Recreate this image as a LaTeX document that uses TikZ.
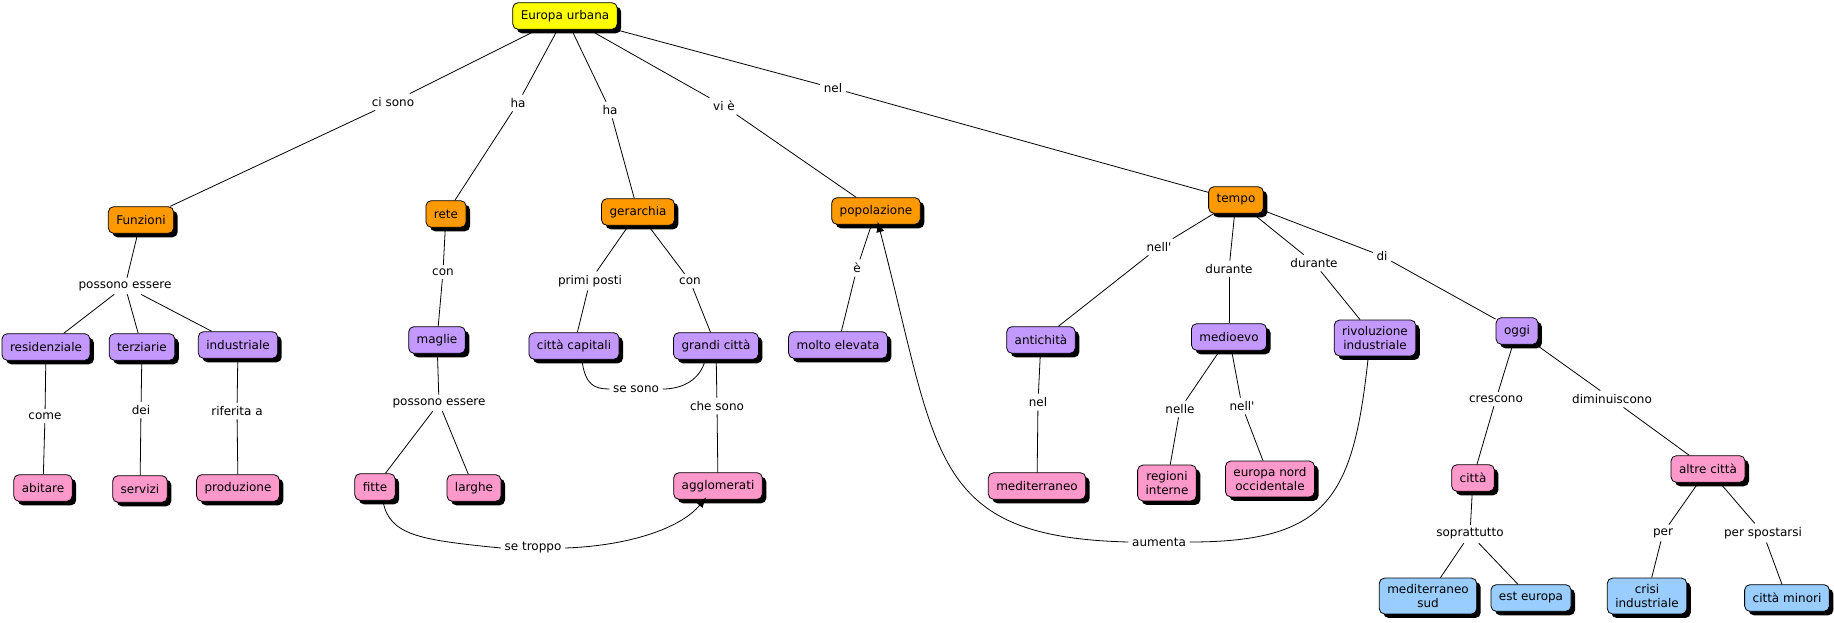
\documentclass[tikz,border=0pt]{standalone}
\usepackage{fontspec}
\setmainfont{DejaVu Sans}
\usepackage{xcolor}
\usepackage{tikz}
\usetikzlibrary{arrows.meta,shadows}

\definecolor{cmYellow}{RGB}{255,255,0}
\definecolor{cmOrange}{RGB}{255,153,0}
\definecolor{cmPurple}{RGB}{196,153,255}
\definecolor{cmPink}{RGB}{255,153,204}
\definecolor{cmBlue}{RGB}{153,204,255}

\tikzset{
  concept/.style={draw=black, rounded corners=4pt, inner xsep=6pt, inner ysep=4.5pt, minimum height=20pt, align=center, font=\fontsize{9}{11}\selectfont, drop shadow={fill=black, opacity=1, shadow xshift=3pt, shadow yshift=-3pt}},
  giallo/.style={concept, fill=cmYellow},
  arancio/.style={concept, fill=cmOrange},
  viola/.style={concept, fill=cmPurple},
  rosa/.style={concept, fill=cmPink},
  azzurro/.style={concept, fill=cmBlue},
  link/.style={fill=white, inner sep=2.5pt, font=\fontsize{9}{11}\selectfont},
  punta/.style={-{Latex[length=8pt,width=6pt]}, shorten >=-2.5pt}
}

\begin{document}
\begin{tikzpicture}[x=0.75pt,y=-0.75pt,line width=0.6pt]
 \useasboundingbox (0,0) rectangle (1834,622);

 \node[giallo] (eu) at (565,16) {Europa urbana};
 \node[arancio] (funz) at (141,220) {Funzioni};
 \node[arancio] (rete) at (446,214) {rete};
 \node[arancio] (gera) at (638,212) {gerarchia};
 \node[arancio] (popo) at (876,211) {popolazione};
 \node[arancio] (tempo) at (1236,200) {tempo};
 \node[viola] (resid) at (46,347) {residenziale};
 \node[viola] (terz) at (142,347) {terziarie};
 \node[viola] (indu) at (238,345) {industriale};
 \node[rosa] (abit) at (43,488) {abitare};
 \node[rosa] (serv) at (140,489) {servizi};
 \node[rosa] (prod) at (238,488) {produzione};
 \node[viola] (magl) at (437,340) {maglie};
 \node[rosa] (fitte) at (375,487) {fitte};
 \node[rosa] (largh) at (474,488) {larghe};
 \node[viola] (capit) at (574,346) {città capitali};
 \node[viola] (grandi) at (716,346) {grandi città};
 \node[rosa] (agglo) at (718,486) {agglomerati};
 \node[viola] (molto) at (838,345) {molto elevata};
 \node[viola] (antic) at (1041,340) {antichità};
 \node[rosa] (medit) at (1037,486) {mediterraneo};
 \node[viola] (medio) at (1229,337) {medioevo};
 \node[rosa] (regio) at (1167,483) {regioni\\interne};
 \node[rosa] (nordocc) at (1270,479) {europa nord\\occidentale};
 \node[viola] (rivol) at (1375,338) {rivoluzione\\industriale};
 \node[viola] (oggi) at (1517,331) {oggi};
 \node[rosa] (citta) at (1473,478) {città};
 \node[rosa] (altre) at (1708,469) {altre città};
 \node[azzurro] (medsud) at (1428,596) {mediterraneo\\sud};
 \node[azzurro] (est) at (1531,598) {est europa};
 \node[azzurro] (crisi) at (1647,596) {crisi\\industriale};
 \node[azzurro] (minori) at (1787,598) {città minori};

 \node[link] (lcisono) at (393,102) {ci sono};
 \node[link] (lha1) at (518,103) {ha};
 \node[link] (lha2) at (610,110) {ha};
 \node[link] (lvie) at (724,106) {vi è};
 \node[link] (lnel) at (833,88) {nel};
 \node[link] (lposs1) at (125,286) {possono essere};
 \node[link] (lcome) at (45,416) {come};
 \node[link] (ldei) at (141,410) {dei};
 \node[link] (lrif) at (237,411) {riferita a};
 \node[link] (lcon1) at (443,272) {con};
 \node[link] (lposs2) at (439,403) {possono essere};
 \node[link] (lprimi) at (590,281) {primi posti};
 \node[link] (lcon2) at (690,281) {con};
 \node[link] (lsesono) at (636,389) {se sono};
 \node[link] (lchesono) at (717,406) {che sono};
 \node[link] (lsetroppo) at (533,548) {se troppo};
 \node[link] (le) at (857,268) {è};
 \node[link] (lnell1) at (1159,247) {nell\textquotesingle};
 \node[link] (ldur1) at (1229,269) {durante};
 \node[link] (ldur2) at (1314,263) {durante};
 \node[link] (ldi) at (1382,256) {di};
 \node[link] (lnel2) at (1038,402) {nel};
 \node[link] (lnelle) at (1180,409) {nelle};
 \node[link] (lnell2) at (1242,406) {nell\textquotesingle};
 \node[link] (lcresc) at (1496,399) {crescono};
 \node[link] (ldimin) at (1612,399) {diminuiscono};
 \node[link] (lsopra) at (1470,534) {soprattutto};
 \node[link] (lper) at (1663,533) {per};
 \node[link] (lperspo) at (1763,533) {per spostarsi};
 \node[link] (laumenta) at (1159,542) {aumenta};

 \draw (lcisono) edge (eu) edge (funz);
 \draw (lha1) edge (eu) edge (rete);
 \draw (lha2) edge (eu) edge (gera);
 \draw (lvie) edge (eu) edge (popo);
 \draw (lnel) edge (eu) edge (tempo);
 \draw (lposs1) edge (funz) edge (resid) edge (terz) edge (indu);
 \draw (lcome) edge (resid) edge (abit);
 \draw (ldei) edge (terz) edge (serv);
 \draw (lrif) edge (indu) edge (prod);
 \draw (lcon1) edge (rete) edge (magl);
 \draw (lposs2) edge (magl) edge (fitte) edge (largh);
 \draw (lprimi) edge (gera) edge (capit);
 \draw (lcon2) edge (gera) edge (grandi);
 \draw (lchesono) edge (grandi) edge (agglo);
 \draw (le) edge (popo) edge (molto);
 \draw (lnell1) edge (tempo) edge (antic);
 \draw (ldur1) edge (tempo) edge (medio);
 \draw (ldur2) edge (tempo) edge (rivol);
 \draw (ldi) edge (tempo) edge (oggi);
 \draw (lnel2) edge (antic) edge (medit);
 \draw (lnelle) edge (medio) edge (regio);
 \draw (lnell2) edge (medio) edge (nordocc);
 \draw (lcresc) edge (oggi) edge (citta);
 \draw (ldimin) edge (oggi) edge (altre);
 \draw (lsopra) edge (citta) edge (medsud) edge (est);
 \draw (lper) edge (altre) edge (crisi);
 \draw (lperspo) edge (altre) edge (minori);

 \draw (capit.-60) .. controls +(3,25) and +(-15,0) .. (lsesono.west);
 \draw (lsesono.east) .. controls +(20,0) and +(-5,20) .. (grandi.-128);
 \draw (fitte.-60) .. controls +(6,35) and +(-80,-8) .. (lsetroppo.west);
 \draw[punta] (lsetroppo.east) .. controls +(60,-2) and +(-25,30) .. (agglo.-135);
 \draw (rivol.-110) .. controls +(-15,140) and +(140,0) .. (laumenta.east);
 \draw[punta] (laumenta.west) .. controls +(-200,-5) and +(60,230) .. (popo.-80);
\end{tikzpicture}
\end{document}
